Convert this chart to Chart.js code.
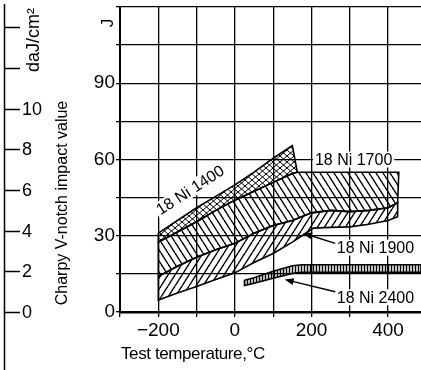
<!DOCTYPE html>
<html lang="en">
<head>
<meta charset="UTF-8">
<title>Charpy V-notch impact value of 18 Ni maraging steels</title>
<script src="https://cdn.jsdelivr.net/npm/chart.js"></script>
<style>
  html, body { margin: 0; padding: 0; background: #fff; overflow: hidden; }
</style>
</head>
<body>
<canvas id="impactChart" width="421" height="370"></canvas>
<script>
// band boundaries: [test temperature in °C, impact energy in J]
const ni1400Top = [[-200, 31], [-150, 36], [-100, 41], [-50, 45.5], [0, 50], [50, 55], [100, 60.5], [150, 65.5]];
const ni1700Top = [[-200, 27.5], [-150, 31.5], [-100, 35.5], [-50, 40], [0, 44], [50, 47.5], [100, 51], [150, 54.5], [163, 55], [200, 55], [300, 55], [400, 55], [428, 55]];
const ni1900Top = [[-200, 14], [-150, 18], [-100, 21.5], [-50, 24.5], [0, 27], [50, 31], [100, 34], [150, 36], [200, 39], [250, 40], [300, 39.5], [350, 40], [400, 41], [425, 43]];
const ni1900Bottom = [[-200, 4.7], [-150, 7.5], [-100, 10], [-50, 12.8], [0, 15.4], [50, 19.5], [100, 23], [150, 27.5], [180, 30.5], [205, 33], [250, 33.3], [300, 33.5], [350, 34.5], [400, 36], [425, 37.5]];
const ni2400Top = [[25, 12.5], [50, 13.5], [100, 16], [150, 18.2], [175, 18.6], [486, 18.6]];
const ni2400Bottom = [[25, 10.4], [50, 11.3], [100, 13.3], [150, 15.2], [175, 15.6], [486, 15.6]];

const tempTicks = [-200, 0, 200, 400];
const energyTicks = [0, 30, 60, 90];
const daJTicks = [0, 2, 4, 6, 8, 10, 12, 14];
const daJLabels = [0, 2, 4, 6, 8, 10];
const J_PER_DAJ = 8; // 0.8 cm2 ligament of the V-notch bar

const FONT = "'Liberation Sans', Arial, sans-serif";

const canvas = document.getElementById('impactChart');
const ctx = canvas.getContext('2d');

// tiles for the hatched bands
function tile(w, h, lw, draw) {
  const c = document.createElement('canvas');
  c.width = w; c.height = h;
  const g = c.getContext('2d');
  g.strokeStyle = '#000';
  g.lineWidth = lw;
  draw(g, w, h);
  return ctx.createPattern(c, 'repeat');
}
function seg(g, x1, y1, x2, y2) {
  g.beginPath(); g.moveTo(x1, y1); g.lineTo(x2, y2); g.stroke();
}
const backHatch = tile(7, 11, 1.4, (g, w, h) => {
  seg(g, 0, 0, w, h); seg(g, -w, 0, 0, h); seg(g, w, 0, 2 * w, h);
});
const fwdHatch = tile(7, 11, 1.4, (g, w, h) => {
  seg(g, 0, h, w, 0); seg(g, -w, h, 0, 0); seg(g, w, h, 2 * w, 0);
});
const crossHatch = tile(7, 6, 1, (g, w, h) => {
  seg(g, 0, 0, w, h); seg(g, -w, 0, 0, h); seg(g, w, 0, 2 * w, h);
  seg(g, 0, h, w, 0); seg(g, -w, h, 0, 0); seg(g, w, h, 2 * w, 0);
});
const stripes = tile(3, 4, 1.5, (g, w, h) => {
  seg(g, 1.5, -1, 1.5, h + 1);
});

// closed outline: along the top edge, then back along the bottom edge
function outline(top, bottom) {
  const pts = top.concat(bottom.slice().reverse());
  pts.push(top[0]);
  return pts.map(([x, y]) => ({x, y}));
}
function band(label, pts, pattern) {
  return {
    label,
    data: pts,
    fill: 'shape',
    backgroundColor: pattern,
    borderColor: '#000',
    borderWidth: 1.6,
    pointRadius: 0,
    tension: 0
  };
}

const bandTags = [
  {text: '18 Ni 1400', t: -117, j: 48, angle: -33, align: 'center'},
  {text: '18 Ni 1700', t: 209, j: 60, angle: 0, align: 'left'},
  {text: '18 Ni 1900', t: 266, j: 25.3, angle: 0, align: 'left'},
  {text: '18 Ni 2400', t: 266, j: 5.8, angle: 0, align: 'left'}
];
const pointers = [
  {from: [262, 27], to: [178, 31]},
  {from: [262, 8], to: [130, 12.8]}
];

function rotatedText(c, text, cx, cy, angle, size) {
  c.save();
  c.translate(cx, cy);
  c.rotate(angle);
  c.font = `${size}px ${FONT}`;
  c.textAlign = 'center';
  c.textBaseline = 'middle';
  c.fillText(text, 0, 0);
  c.restore();
}

const decorations = {
  id: 'decorations',
  afterDraw(chart) {
    const {ctx: c, chartArea: area, scales: {x, y}} = chart;
    c.save();
    c.fillStyle = '#000';
    c.strokeStyle = '#000';

    // daJ/cm2 scale on the far left
    const axisX = 4.5;
    c.lineWidth = 1.5;
    c.beginPath(); c.moveTo(axisX, area.top - 3); c.lineTo(axisX, chart.height); c.stroke();
    c.font = `18px ${FONT}`;
    c.textAlign = 'left';
    c.textBaseline = 'middle';
    daJTicks.forEach(d => {
      const py = Math.round(y.getPixelForValue(d * J_PER_DAJ)) + 0.5;
      c.beginPath(); c.moveTo(axisX, py); c.lineTo(20, py); c.stroke();
      if (daJLabels.includes(d)) c.fillText(String(d), 22, py + 1);
    });

    rotatedText(c, 'daJ/cm\u00b2', 34, area.top + 33, -Math.PI / 2, 18);
    rotatedText(c, 'Charpy V-notch impact value', 63, 203, -Math.PI / 2, 16);
    rotatedText(c, 'J', 108, area.top + 16, -Math.PI / 2, 17);

    c.font = `17px ${FONT}`;
    c.letterSpacing = '-0.4px';
    c.textAlign = 'left';
    c.fillText('Test temperature,\u00b0C', area.left + 1, 354);
    c.letterSpacing = '0px';

    // band names on white patches
    bandTags.forEach(tag => {
      c.save();
      c.translate(x.getPixelForValue(tag.t), y.getPixelForValue(tag.j));
      c.rotate(tag.angle * Math.PI / 180);
      c.font = `16px ${FONT}`;
      c.textAlign = 'left';
      c.textBaseline = 'middle';
      const w = c.measureText(tag.text).width;
      const x0 = tag.align === 'center' ? -w / 2 : 0;
      c.fillStyle = '#fff';
      c.fillRect(x0 - 2, -8, w + 4, 16);
      c.fillStyle = '#000';
      c.fillText(tag.text, x0, 1);
      c.restore();
    });

    // pointer arrows
    c.lineWidth = 1.5;
    pointers.forEach(p => {
      const x1 = x.getPixelForValue(p.from[0]), y1 = y.getPixelForValue(p.from[1]);
      const x2 = x.getPixelForValue(p.to[0]), y2 = y.getPixelForValue(p.to[1]);
      const a = Math.atan2(y2 - y1, x2 - x1);
      c.beginPath(); c.moveTo(x1, y1); c.lineTo(x2 - 6 * Math.cos(a), y2 - 6 * Math.sin(a)); c.stroke();
      c.beginPath();
      c.moveTo(x2, y2);
      c.lineTo(x2 - 9 * Math.cos(a) + 3.5 * Math.sin(a), y2 - 9 * Math.sin(a) - 3.5 * Math.cos(a));
      c.lineTo(x2 - 9 * Math.cos(a) - 3.5 * Math.sin(a), y2 - 9 * Math.sin(a) + 3.5 * Math.cos(a));
      c.closePath();
      c.fill();
    });
    c.restore();
  }
};

new Chart(ctx, {
  type: 'line',
  data: {
    datasets: [
      band('18 Ni 2400', outline(ni2400Top, ni2400Bottom), stripes),
      band('18 Ni 1700', outline(ni1700Top, ni1900Top), backHatch),
      band('18 Ni 1900', outline(ni1900Top, ni1900Bottom), fwdHatch),
      band('18 Ni 1400', outline(ni1400Top, ni1700Top.filter(p => p[0] <= 163)), crossHatch)
    ]
  },
  options: {
    responsive: false,
    devicePixelRatio: 1,
    animation: false,
    layout: {padding: {top: 7, left: 0, right: 0, bottom: 0}},
    plugins: {legend: {display: false}, tooltip: {enabled: false}},
    scales: {
      x: {
        type: 'linear',
        min: -300,
        max: 486,
        ticks: {
          stepSize: 100,
          includeBounds: false,
          autoSkip: false,
          maxRotation: 0,
          padding: 2,
          color: '#000',
          font: {family: FONT, size: 19},
          callback: v => tempTicks.includes(v) ? (v < 0 ? '\u2212' + (-v) : String(v)) : ''
        },
        grid: {color: '#000', lineWidth: 1.3, tickLength: 5},
        border: {color: '#000', width: 2.5},
        afterFit(s) { s.height = 58; s.paddingLeft = 0; s.paddingRight = 0; }
      },
      y: {
        min: 0,
        max: 120,
        ticks: {
          stepSize: 15,
          autoSkip: false,
          padding: 1,
          color: '#000',
          font: {family: FONT, size: 19},
          callback: v => energyTicks.includes(v) ? String(v) : ''
        },
        grid: {color: '#000', lineWidth: 1.3, tickLength: 4},
        border: {color: '#000', width: 2},
        afterFit(s) { s.width = 120; s.paddingTop = 0; s.paddingBottom = 0; }
      }
    }
  },
  plugins: [decorations]
});
</script>
</body>
</html>
